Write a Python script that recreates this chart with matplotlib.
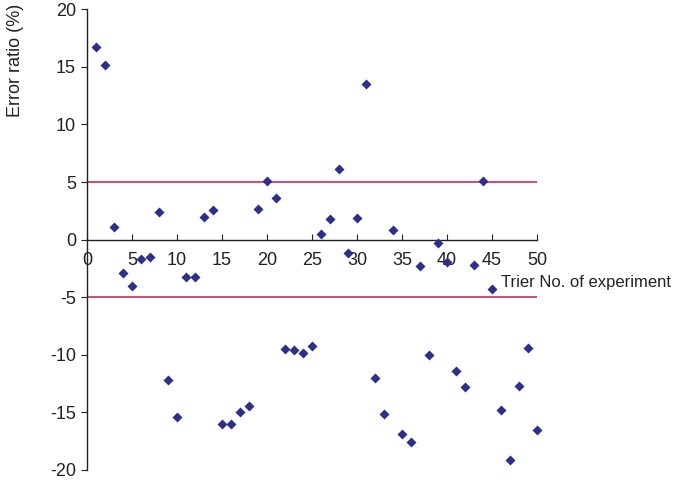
import matplotlib
matplotlib.use("Agg")
import matplotlib.pyplot as plt

trials = list(range(1, 51))
error_ratio = [16.7, 15.2, 1.1, -2.9, -4.0, -1.7, -1.5, 2.4, -12.2, -15.4,
               -3.2, -3.2, 2.0, 2.6, -16.0, -16.0, -15.0, -14.4, 2.7, 5.1,
               3.6, -9.5, -9.6, -9.8, -9.2, 0.5, 1.8, 6.1, -1.2, 1.9,
               13.5, -12.0, -15.1, 0.8, -16.9, -17.6, -2.3, -10.0, -0.3, -1.9,
               -11.4, -12.8, -2.2, 5.1, -4.3, -14.8, -19.1, -12.7, -9.4, -16.5]
limits = [5, -5]
xticks = [0, 5, 10, 15, 20, 25, 30, 35, 40, 45, 50]
yticks = [-20, -15, -10, -5, 0, 5, 10, 15, 20]

plt.rcParams['font.family'] = ['Liberation Sans', 'DejaVu Sans']
plt.rcParams['axes.unicode_minus'] = False

fig = plt.figure(figsize=(6.8, 4.84), dpi=100)
ax = fig.add_axes([87/680, 14/484, 450/680, 460.7/484])
ax.set_xlim(0, 50)
ax.set_ylim(-20, 20)

for lim in limits:
    ax.plot([0, 50], [lim, lim], color='#D42A5C', lw=1.2, zorder=2)

ax.scatter(trials, error_ratio, marker='D', s=26, color='#2E2E8C', zorder=3,
           linewidths=0, clip_on=False)

ax.spines['right'].set_visible(False)
ax.spines['top'].set_visible(False)
ax.spines['bottom'].set_position(('data', 0))
for s in ['left', 'bottom']:
    ax.spines[s].set_color('#222222')
    ax.spines[s].set_linewidth(1.0)

ax.set_xticks(xticks)
ax.set_yticks(yticks)
ax.tick_params(axis='x', direction='in', length=4, pad=9, labelsize=13, colors='#222222')
ax.tick_params(axis='y', direction='out', length=4, pad=4, labelsize=13, colors='#222222')

fig.text(15/680, 1 - 60/484, 'Error ratio (%)', rotation=90, ha='center', va='center',
         fontsize=13, color='#222222')
fig.text(501/680, 1 - 283/484, 'Trier No. of experiment', ha='left', va='center',
         fontsize=12, color='#222222')

fig.savefig('out.png', dpi=100)
